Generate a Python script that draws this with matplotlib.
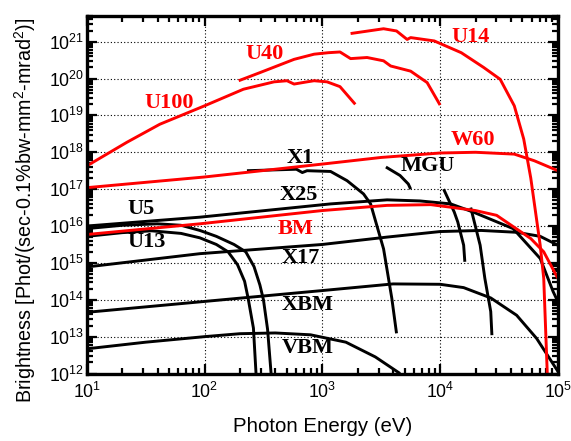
import numpy as np
import matplotlib
matplotlib.use("Agg")
import matplotlib.pyplot as plt
from matplotlib.ticker import LogLocator, NullFormatter

plt.rcParams['font.family'] = ['Liberation Sans', 'DejaVu Sans']
plt.rcParams['mathtext.fontset'] = 'custom'
plt.rcParams['mathtext.rm'] = 'Liberation Sans'
plt.rcParams['mathtext.it'] = 'Liberation Sans:italic'
plt.rcParams['mathtext.bf'] = 'Liberation Sans:bold'

# ---- data (log10 photon energy [eV], log10 brightness) ----
u100_logE = [1.0, 1.34, 1.62, 2.0, 2.33, 2.59, 2.70, 2.76, 2.87, 2.93, 3.04, 3.15, 3.28]
u100_logB = [17.63, 18.27, 18.76, 19.26, 19.71, 19.91, 19.94, 19.85, 19.91, 19.94, 19.91, 19.78, 19.30]

u40_logE = [2.29, 2.47, 2.76, 2.93, 3.05, 3.15, 3.24, 3.38, 3.52, 3.58, 3.75, 3.89, 4.0]
u40_logB = [19.94, 20.16, 20.52, 20.66, 20.70, 20.72, 20.54, 20.57, 20.48, 20.34, 20.20, 19.89, 19.28]

u14_logE = [3.24, 3.52, 3.63, 3.72, 3.75, 3.95, 4.18, 4.37, 4.51, 4.63, 4.71, 4.77, 4.85, 4.88, 4.91]
u14_logB = [21.22, 21.35, 21.29, 21.06, 21.11, 21.02, 20.70, 20.30, 19.98, 19.26, 18.36, 17.30, 15.48, 14.58, 12.0]

w60_logE = [1.0, 2.0, 3.0, 3.5, 4.0, 4.3, 4.63, 4.8, 5.0]
w60_logB = [17.04, 17.33, 17.68, 17.86, 17.98, 18.0, 17.95, 17.77, 17.50]

bm_logE = [1.0, 1.96, 3.0, 3.55, 3.92, 4.09, 4.30, 4.48, 4.77, 4.88, 5.0]
bm_logB = [15.77, 16.06, 16.42, 16.56, 16.58, 16.51, 16.42, 16.29, 15.66, 15.30, 14.58]

x1_logE = [2.36, 2.78, 2.83, 2.87, 3.07, 3.21, 3.35, 3.41, 3.52, 3.59, 3.63]
x1_logB = [17.50, 17.54, 17.45, 17.50, 17.48, 17.23, 16.87, 16.60, 15.38, 14.04, 13.09]

mgu_logE = [3.54, 3.66, 3.73, 3.75]
mgu_logB = [17.60, 17.37, 17.14, 17.00]

h1_logE = [4.03, 4.12, 4.15, 4.20, 4.21]
h1_logB = [17.00, 16.38, 16.11, 15.48, 15.03]

h2_logE = [4.26, 4.34, 4.38, 4.43, 4.44]
h2_logB = [16.50, 15.48, 14.58, 13.68, 13.04]

x25_logE = [1.0, 1.96, 3.07, 3.55, 3.83, 4.09, 4.28, 4.62, 4.85, 4.96, 5.0]
x25_logB = [16.0, 16.24, 16.60, 16.71, 16.68, 16.60, 16.38, 15.93, 15.12, 14.22, 13.95]

u5_logE = [1.0, 1.3, 1.6, 1.8, 1.96, 2.1, 2.25, 2.35, 2.42, 2.47, 2.5, 2.535, 2.565]
u5_logB = [15.93, 16.02, 16.06, 16.02, 15.88, 15.72, 15.50, 15.30, 14.90, 14.40, 14.0, 13.2, 12.0]

u13_logE = [1.0, 1.3, 1.55, 1.8, 1.96, 2.1, 2.2, 2.28, 2.34, 2.37, 2.415, 2.437]
u13_logB = [15.72, 15.82, 15.87, 15.80, 15.68, 15.50, 15.30, 14.95, 14.50, 14.04, 13.23, 12.0]

x17_logE = [1.0, 1.96, 3.0, 3.55, 4.0, 4.35, 4.65, 4.85, 5.0]
x17_logB = [14.89, 15.25, 15.50, 15.70, 15.85, 15.88, 15.83, 15.72, 15.48]

xbm_logE = [1.0, 2.22, 3.0, 3.6, 4.0, 4.2, 4.43, 4.65, 4.82, 5.0]
xbm_logB = [13.66, 14.02, 14.25, 14.43, 14.42, 14.33, 14.05, 13.58, 12.95, 12.06]

vbm_logE = [1.0, 1.5, 2.0, 2.3, 2.6, 2.9, 3.2, 3.45, 3.66]
vbm_logB = [12.67, 12.85, 13.0, 13.08, 13.10, 13.05, 12.85, 12.45, 12.0]

red_curves = [(u100_logE, u100_logB), (u40_logE, u40_logB), (u14_logE, u14_logB),
              (w60_logE, w60_logB), (bm_logE, bm_logB)]
black_curves = [(x1_logE, x1_logB), (mgu_logE, mgu_logB), (h1_logE, h1_logB),
                (h2_logE, h2_logB), (x25_logE, x25_logB), (u5_logE, u5_logB),
                (u13_logE, u13_logB), (x17_logE, x17_logB), (xbm_logE, xbm_logB),
                (vbm_logE, vbm_logB)]

# labels: text, energy (eV), brightness, colour
label_text = ["U14", "U40", "U100", "W60", "BM", "X1", "MGU", "X25", "U5", "U13", "X17", "XBM", "VBM"]
label_E = [18000, 320, 50, 19000, 590, 650, 7900, 630, 29, 32.5, 650, 750, 750]
label_logB = [21.13, 20.66, 19.33, 18.33, 15.93, 17.85, 17.63, 16.83, 16.47, 15.58, 15.12, 13.86, 12.68]
label_red = [True, True, True, True, True, False, False, False, False, False, False, False, False]

fig = plt.figure(figsize=(5.71, 4.41), dpi=100)
ax = fig.add_axes([0.152, 0.153, 0.825, 0.811])

for lE, lB in black_curves:
    ax.plot(10 ** np.array(lE), 10 ** np.array(lB), color="black", lw=2.1, solid_capstyle="butt")
for lE, lB in red_curves:
    ax.plot(10 ** np.array(lE), 10 ** np.array(lB), color="#ff0000", lw=2.1, solid_capstyle="butt")

for t, e, b, r in zip(label_text, label_E, label_logB, label_red):
    ax.text(e, 10 ** b, t, color="#ff0000" if r else "black", ha="center", va="center",
            fontsize=16, fontweight="bold", family="Liberation Serif")

ax.set_xscale("log")
ax.set_yscale("log")
ax.set_xlim(10, 1e5)
ax.set_ylim(1e12, 5e21)
ax.xaxis.set_major_locator(LogLocator(base=10, numticks=20))
ax.yaxis.set_major_locator(LogLocator(base=10, numticks=20))
ax.xaxis.set_minor_locator(LogLocator(base=10, subs=np.arange(2, 10), numticks=20))
ax.yaxis.set_minor_locator(LogLocator(base=10, subs=np.arange(2, 10), numticks=20))
ax.xaxis.set_minor_formatter(NullFormatter())
ax.yaxis.set_minor_formatter(NullFormatter())

ax.grid(True, which="major", color="black", linestyle=(0, (1, 2)), lw=0.8)
ax.tick_params(which="both", direction="in", top=True, right=True, width=1.6)
ax.tick_params(which="major", length=7, labelsize=12.8)
ax.tick_params(axis="x", which="major", pad=6)
ax.tick_params(axis="y", which="major", pad=2)
ax.tick_params(which="minor", length=4)
for s in ax.spines.values():
    s.set_linewidth(2.4)

ax.set_xlabel("Photon Energy (eV)", fontsize=14.7, labelpad=11)
ax.set_ylabel("Brightness [Phot/(sec-0.1%bw-mm$^2$-mrad$^2$)]", fontsize=14.2)
ax.yaxis.set_label_coords(-0.103, 0.457)

fig.savefig("out.png", dpi=100)
